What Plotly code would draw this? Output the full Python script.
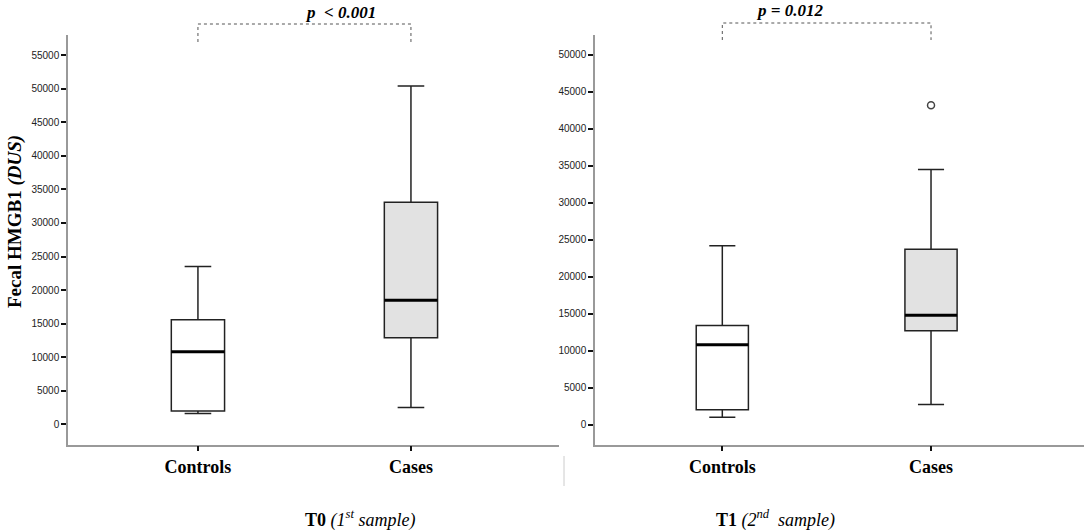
"""Fecal HMGB1 box plots at T0 and T1, controls vs cases."""

import plotly.graph_objects as go

# groups
groups = ["Controls", "Cases"]

# T0 (1st sample) box statistics
t0_lower = [1600, 2500]
t0_q1 = [2000, 12900]
t0_median = [10800, 18500]
t0_q3 = [15600, 33100]
t0_upper = [23500, 50400]

# T1 (2nd sample) box statistics
t1_lower = [1000, 2700]
t1_q1 = [2000, 12700]
t1_median = [10800, 14800]
t1_q3 = [13400, 23700]
t1_upper = [24200, 34500]
t1_outlier_group = ["Cases"]
t1_outlier_value = [43200]

p_texts = ["p  < 0.001", "p = 0.012"]
panel_titles = [("T0", "1<sup>st</sup> sample"), ("T1", "2<sup>nd</sup>  sample")]

fills = ["#ffffff", "#e2e2e2"]
box_width = 0.25
serif = "Liberation Serif, Times New Roman, serif"
sans = "Liberation Sans, Arial, sans-serif"

W, H = 1084, 532


def px(x):
    return x / W


def py(y):
    return (H - y) / H


fig = go.Figure()
shapes = []

panels = [
    ("x", "y", t0_lower, t0_q1, t0_median, t0_q3, t0_upper),
    ("x2", "y2", t1_lower, t1_q1, t1_median, t1_q3, t1_upper),
]

for xa, ya, lo, q1, med, q3, up in panels:
    for i, g in enumerate(groups):
        fig.add_trace(
            go.Box(
                x=[g],
                q1=[q1[i]],
                median=[med[i]],
                q3=[q3[i]],
                lowerfence=[lo[i]],
                upperfence=[up[i]],
                width=box_width,
                whiskerwidth=0.5,
                fillcolor=fills[i],
                line=dict(color="#222222", width=1.5),
                xaxis=xa,
                yaxis=ya,
                showlegend=False,
                hoverinfo="y",
            )
        )
        # thicker median line, SPSS style
        shapes.append(
            dict(
                type="line",
                xref=xa,
                yref=ya,
                x0=i - box_width / 2,
                x1=i + box_width / 2,
                y0=med[i],
                y1=med[i],
                line=dict(color="#000000", width=3),
            )
        )

# outlier in T1 cases
fig.add_trace(
    go.Scatter(
        x=t1_outlier_group,
        y=t1_outlier_value,
        mode="markers",
        marker=dict(symbol="circle-open", size=7, color="#444444", line=dict(width=1.5)),
        xaxis="x2",
        yaxis="y2",
        showlegend=False,
    )
)

# significance brackets
for xa, y_low, y_high in [("x", 42, 24), ("x2", 40, 23)]:
    shapes.append(
        dict(
            type="path",
            xref=xa,
            yref="paper",
            path=f"M 0,{py(y_low)} L 0,{py(y_high)} L 1,{py(y_high)} L 1,{py(y_low)}",
            line=dict(color="#555555", width=1, dash="dot"),
        )
    )

# little separator below the panels
shapes.append(
    dict(
        type="line",
        xref="paper",
        yref="paper",
        x0=px(564),
        x1=px(564),
        y0=py(456),
        y1=py(486),
        line=dict(color="#cccccc", width=1),
    )
)

annotations = [
    dict(
        text=f"<b><i>{p_texts[0]}</i></b>",
        x=px(303), y=py(12), xref="paper", yref="paper", yanchor="middle",
        showarrow=False, font=dict(family=serif, size=17, color="#000"),
    ),
    dict(
        text=f"<b><i>{p_texts[1]}</i></b>",
        x=px(825), y=py(10), xref="paper", yref="paper", yanchor="middle",
        showarrow=False, font=dict(family=serif, size=17, color="#000"),
    ),
    dict(
        text="<b>Fecal HMGB1 <i>(DUS)</i></b>",
        x=px(15), y=py(222), xref="paper", yref="paper", textangle=-90,
        xanchor="center", yanchor="middle",
        showarrow=False, font=dict(family=serif, size=19, color="#000"),
    ),
]
for cx, (bold, rest) in zip([303, 837], panel_titles):
    annotations.append(
        dict(
            text=f"<b>{bold}</b> <i>({rest})</i>",
            x=px(cx), y=py(519), xref="paper", yref="paper", yanchor="middle",
            showarrow=False, font=dict(family=serif, size=18, color="#000"),
        )
    )

axis_common = dict(
    showgrid=False,
    zeroline=False,
    showline=True,
    linecolor="#999999",
    linewidth=1.5,
    ticks="outside",
    tickcolor="#111111",
    tickwidth=1.5,
    ticklen=5,
    automargin=False,
)

ydomain = [py(444.5), py(35)]

fig.update_layout(
    width=W,
    height=H,
    margin=dict(l=0, r=0, t=0, b=0),
    paper_bgcolor="white",
    plot_bgcolor="white",
    xaxis=dict(
        axis_common, domain=[px(68), px(559)], range=[-0.61, 1.695],
        type="category", anchor="y",
        tickfont=dict(family=serif, size=18, color="#000"),
    ),
    yaxis=dict(
        axis_common, domain=ydomain, range=[-3000, 58000], anchor="x",
        tickvals=list(range(0, 55001, 5000)), tickformat="d",
        tickfont=dict(family=sans, size=10, color="#222"),
    ),
    xaxis2=dict(
        axis_common, domain=[px(595), 1.0], range=[-0.61, 1.733],
        type="category", anchor="y2",
        tickfont=dict(family=serif, size=18, color="#000"),
    ),
    yaxis2=dict(
        axis_common, domain=ydomain, range=[-2700, 52700], anchor="x2",
        tickvals=list(range(0, 50001, 5000)), tickformat="d",
        tickfont=dict(family=sans, size=10, color="#222"),
    ),
    shapes=shapes,
    annotations=annotations,
)

fig.update_xaxes(tickprefix="<b>", ticksuffix="</b>")

# drop the default body margin so the figure fills the window exactly
fig.write_html(
    "out.html",
    config={"displayModeBar": False},
    post_script="document.body.style.margin = '0';",
)
